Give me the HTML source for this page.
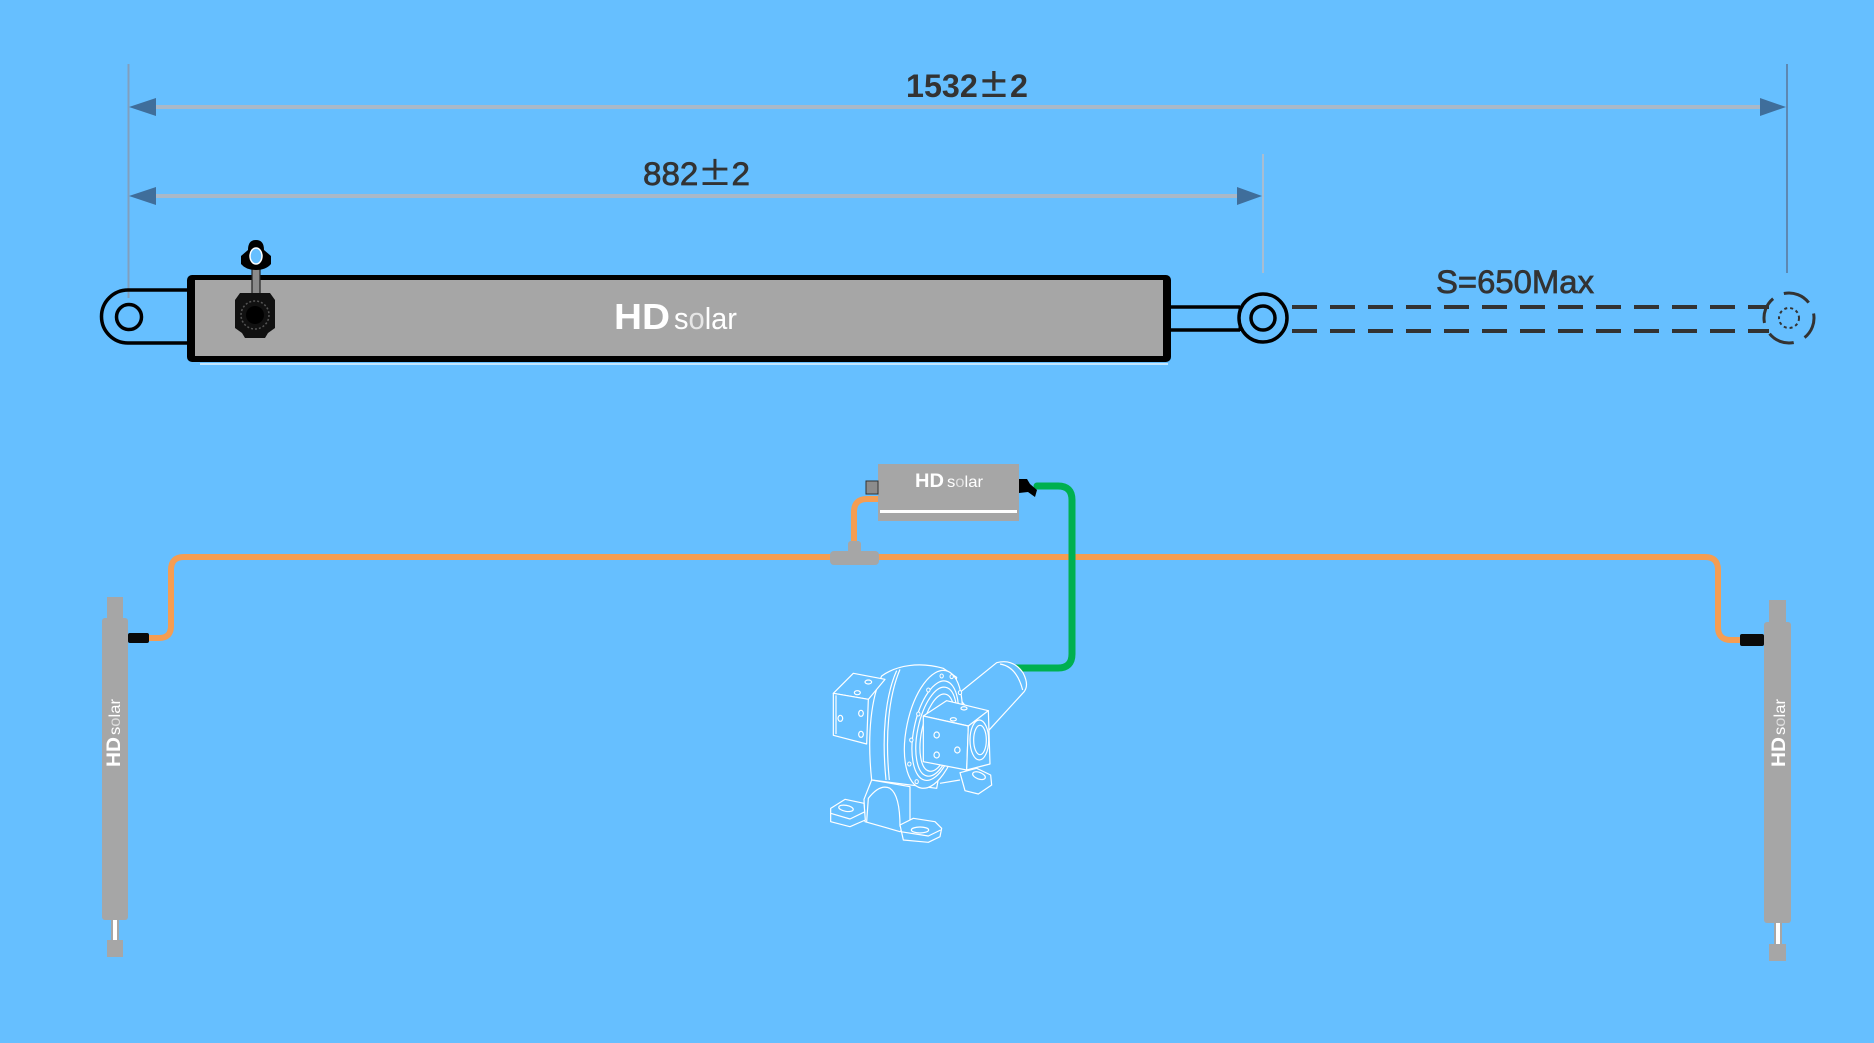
<!DOCTYPE html>
<html><head><meta charset="utf-8">
<style>
html,body{margin:0;padding:0;background:#66bfff;}
svg{display:block;}
</style></head>
<body>
<svg width="1874" height="1043" viewBox="0 0 1874 1043" xmlns="http://www.w3.org/2000/svg">
<rect x="0" y="0" width="1874" height="1043" fill="#66bfff"/>

<!-- extension lines -->
<line x1="128.5" y1="64" x2="128.5" y2="298" stroke="#819fbd" stroke-width="2"/>
<line x1="1787" y1="64" x2="1787" y2="273" stroke="#5d88b2" stroke-width="2"/>
<line x1="1263" y1="154" x2="1263" y2="273" stroke="#a8bdd2" stroke-width="2"/>

<!-- dimension lines -->
<line x1="140" y1="107" x2="1776" y2="107" stroke="#a9b8c8" stroke-width="4"/>
<line x1="140" y1="196" x2="1250" y2="196" stroke="#a9b8c8" stroke-width="4"/>
<polygon points="129,107 156,98 156,116" fill="#3f6e9b"/>
<polygon points="1786,107 1760,98 1760,116" fill="#3f6e9b"/>
<polygon points="129,196 156,187 156,205" fill="#3f6e9b"/>
<polygon points="1262,196 1237,187 1237,205" fill="#3f6e9b"/>

<g font-family="'Liberation Sans','Noto Sans CJK SC',sans-serif" fill="#333333">
<text x="906" y="97" font-size="32" font-weight="bold" textLength="122" lengthAdjust="spacingAndGlyphs">1532<tspan font-family="'Noto Sans CJK SC',sans-serif">±</tspan>2</text>
<text x="643" y="185" font-size="32" stroke="#333333" stroke-width="0.7" textLength="107" lengthAdjust="spacingAndGlyphs">882<tspan font-family="'Noto Sans CJK SC',sans-serif">±</tspan>2</text>
<text x="1436" y="293" font-size="32" stroke="#333333" stroke-width="0.7" textLength="158" lengthAdjust="spacingAndGlyphs">S=650Max</text>
</g>

<!-- main actuator left eye -->
<path d="M190,290 H128 A26.5,26.5 0 0 0 128,343 H190" fill="none" stroke="#000" stroke-width="3.5"/>
<circle cx="129" cy="317" r="12.5" fill="none" stroke="#000" stroke-width="3.5"/>

<!-- main actuator body -->
<rect x="187" y="275" width="984" height="87" rx="5" fill="#000"/>
<rect x="195" y="280" width="968" height="76" fill="#a6a6a6"/>
<line x1="200" y1="364" x2="1168" y2="364" stroke="#ffffff" stroke-width="1.5" opacity="0.8"/>

<!-- right rod & eye -->
<line x1="1171" y1="307" x2="1240" y2="307" stroke="#000" stroke-width="3.5"/>
<line x1="1171" y1="330" x2="1240" y2="330" stroke="#000" stroke-width="3.5"/>
<line x1="1240" y1="306" x2="1240" y2="331" stroke="#000" stroke-width="3"/>
<circle cx="1263" cy="318" r="24" fill="#66bfff" stroke="#000" stroke-width="3.5"/>
<circle cx="1263" cy="318" r="12" fill="none" stroke="#000" stroke-width="3.5"/>

<!-- dashed extension -->
<line x1="1292" y1="307" x2="1769" y2="307" stroke="#333" stroke-width="4" stroke-dasharray="25 13"/>
<line x1="1292" y1="331" x2="1769" y2="331" stroke="#333" stroke-width="4" stroke-dasharray="25 13"/>
<circle cx="1789" cy="318" r="25" fill="none" stroke="#333" stroke-width="3" stroke-dasharray="27 12" transform="rotate(-100 1789 318)"/>
<circle cx="1789" cy="318" r="10" fill="none" stroke="#333" stroke-width="2" stroke-dasharray="3 3"/>

<!-- main actuator connector -->
<rect x="252" y="266" width="8" height="30" fill="#8a8a8a" stroke="#222" stroke-width="1.2"/>
<path d="M248,250 Q248,240 256,240 Q264,240 264,250 L271,256 L271,264 Q266,270 256,270 Q246,270 241,264 L241,256 Z" fill="#000"/>
<ellipse cx="256" cy="256" rx="6" ry="8" fill="#66bfff" stroke="#ffffff" stroke-width="1.5"/>
<polygon points="240,293 270,293 275,300 275,328 268,333 265,338 245,338 242,333 235,328 235,300" fill="#111"/>
<circle cx="255" cy="315" r="14" fill="none" stroke="#555" stroke-width="1.5" stroke-dasharray="2 2"/>
<circle cx="255" cy="315" r="9" fill="#000"/>

<!-- main logo -->
<g font-family="'Liberation Sans',sans-serif" fill="#ffffff">
<text x="614" y="329" font-size="36" font-weight="bold" textLength="56" lengthAdjust="spacingAndGlyphs">HD</text>
<text x="674" y="329" font-size="31" textLength="63" lengthAdjust="spacingAndGlyphs">s<tspan fill="#e6e6e6">o</tspan>lar</text>
</g>

<!-- wires -->
<path d="M149,638 H159 Q171,638 171,626 V570 Q171,557 184,557 H1705 Q1718,557 1718,570 V627 Q1718,640 1731,640 H1740" fill="none" stroke="#f59d52" stroke-width="6"/>
<path d="M854,546 V512 Q854,499 867,499 H879" fill="none" stroke="#f59d52" stroke-width="6"/>
<path d="M1037,486 H1058 Q1072,486 1072,500 V654 Q1072,668 1058,668 H1013" fill="none" stroke="#00b050" stroke-width="7" stroke-linecap="round"/>

<!-- T junction -->
<rect x="848" y="541" width="13" height="13" rx="3" fill="#a6a6a6"/>
<rect x="830" y="551" width="49" height="14" rx="4" fill="#a6a6a6"/>

<!-- controller -->
<rect x="878" y="464" width="141" height="57" fill="#a6a6a6"/>
<rect x="880" y="510" width="137" height="3" fill="#ffffff"/>
<rect x="866" y="481" width="12" height="13" fill="#8c8c8c" stroke="#333" stroke-width="1"/>
<path d="M1019,479 H1027 L1030,484 L1037,490 L1035,497 L1028,492 L1019,493 Z" fill="#000"/>
<g font-family="'Liberation Sans',sans-serif" fill="#ffffff">
<text x="915" y="487" font-size="19" font-weight="bold" textLength="29" lengthAdjust="spacingAndGlyphs">HD</text>
<text x="947" y="487" font-size="16" textLength="36" lengthAdjust="spacingAndGlyphs">s<tspan fill="#dddddd">o</tspan>lar</text>
</g>

<!-- left small actuator -->
<rect x="107" y="597" width="16" height="24" fill="#a6a6a6"/>
<rect x="102" y="618" width="26" height="302" rx="3" fill="#a6a6a6"/>
<rect x="111" y="918" width="8" height="23" fill="#a6a6a6"/>
<rect x="113" y="920" width="4" height="20" fill="#ffffff"/>
<rect x="107" y="940" width="16" height="17" fill="#a6a6a6"/>
<rect x="128" y="633" width="21" height="10" rx="2" fill="#0a0a0a"/>
<g transform="translate(113,733) rotate(-90)" font-family="'Liberation Sans',sans-serif" fill="#ffffff">
<text x="-34" y="7" font-size="19" font-weight="bold" textLength="30" lengthAdjust="spacingAndGlyphs">HD</text>
<text x="-2" y="7" font-size="16" textLength="36" lengthAdjust="spacingAndGlyphs">s<tspan fill="#dddddd">o</tspan>lar</text>
</g>

<!-- right small actuator -->
<rect x="1769" y="600" width="17" height="25" fill="#a6a6a6"/>
<rect x="1764" y="622" width="27" height="301" rx="3" fill="#a6a6a6"/>
<rect x="1774" y="921" width="8" height="24" fill="#a6a6a6"/>
<rect x="1776" y="923" width="4" height="21" fill="#ffffff"/>
<rect x="1769" y="944" width="17" height="17" fill="#a6a6a6"/>
<rect x="1740" y="634" width="24" height="12" rx="2" fill="#0a0a0a"/>
<g transform="translate(1778,733) rotate(-90)" font-family="'Liberation Sans',sans-serif" fill="#ffffff">
<text x="-34" y="7" font-size="19" font-weight="bold" textLength="30" lengthAdjust="spacingAndGlyphs">HD</text>
<text x="-2" y="7" font-size="16" textLength="36" lengthAdjust="spacingAndGlyphs">s<tspan fill="#dddddd">o</tspan>lar</text>
</g>

<!-- slewing drive line drawing -->
<g transform="translate(800,640) scale(0.33333)" fill="#66bfff" stroke="#ffffff" stroke-width="3.6" stroke-linejoin="round">
  <!-- motor cylinder -->
  <path d="M470,165 L590,68 Q640,55 670,100 Q690,140 668,160 L560,278 Z"/>
  <path d="M600,72 Q650,80 668,150" fill="none"/>
  <!-- drum -->
  <path d="M245,108 C290,75 360,65 430,85 L470,112 L410,445 L215,420 C200,280 215,170 245,108 Z"/>
  <path d="M290,92 C255,170 245,290 258,420" fill="none"/>
  <path d="M300,88 C265,170 255,290 268,420" fill="none"/>
  <!-- left block -->
  <path d="M100,160 L160,100 L255,118 L205,178 Z"/>
  <path d="M100,160 L205,178 L200,312 L100,286 Z"/>
  <line x1="108" y1="166" x2="108" y2="282"/>
  <ellipse cx="205" cy="126" rx="10" ry="6"/>
  <ellipse cx="172" cy="158" rx="9" ry="6"/>
  <ellipse cx="121" cy="235" rx="7" ry="9"/>
  <ellipse cx="183" cy="220" rx="7" ry="9"/>
  <ellipse cx="183" cy="283" rx="7" ry="9"/>
  <!-- pedestal -->
  <path d="M215,420 L192,478 L195,545 L300,575 L330,545 L330,440 Z"/>
  <path d="M200,545 L205,475 Q240,430 270,445 Q300,465 300,560" fill="none"/>
  <path d="M92,505 L135,478 L192,490 L196,540 L150,560 L92,545 Z"/>
  <path d="M92,520 L150,537 L195,515" fill="none"/>
  <ellipse cx="138" cy="505" rx="22" ry="9" transform="rotate(10 138 505)"/>
  <path d="M300,555 L340,535 L405,545 L425,565 L420,590 L385,607 L310,600 Z"/>
  <path d="M302,575 L385,588 L422,570" fill="none"/>
  <ellipse cx="360" cy="570" rx="26" ry="9"/>
  <path d="M420,430 L480,420" fill="none"/>
  <path d="M480,398 L530,385 L572,405 L575,435 L535,462 L495,452 Z"/>
  <ellipse cx="537" cy="407" rx="20" ry="10" transform="rotate(20 537 407)"/>
  <!-- flange -->
  <ellipse cx="400" cy="268" rx="80" ry="180" transform="rotate(12 400 268)"/>
  <ellipse cx="406" cy="272" rx="64" ry="152" transform="rotate(12 406 272)"/>
  <ellipse cx="409" cy="275" rx="56" ry="136" transform="rotate(12 409 275)"/>
  <ellipse cx="412" cy="278" rx="47" ry="118" transform="rotate(12 412 278)"/>
  <g stroke-width="3">
    <ellipse cx="425" cy="108" rx="5" ry="6"/>
    <ellipse cx="455" cy="110" rx="5" ry="6"/>
    <ellipse cx="385" cy="150" rx="5" ry="6"/>
    <ellipse cx="355" cy="222" rx="5" ry="6"/>
    <ellipse cx="334" cy="300" rx="5" ry="6"/>
    <ellipse cx="328" cy="372" rx="5" ry="6"/>
    <ellipse cx="350" cy="425" rx="5" ry="6"/>
    <ellipse cx="480" cy="158" rx="5" ry="6"/>
  </g>
  <!-- right block -->
  <path d="M370,228 L440,182 L565,212 L505,258 Z"/>
  <path d="M370,228 L505,258 L500,390 L370,365 Z"/>
  <path d="M505,258 L565,212 L570,372 L500,390 Z"/>
  <ellipse cx="538" cy="300" rx="28" ry="60"/>
  <ellipse cx="540" cy="300" rx="19" ry="44"/>
  <ellipse cx="492" cy="205" rx="9" ry="5"/>
  <ellipse cx="460" cy="238" rx="9" ry="5"/>
  <ellipse cx="410" cy="285" rx="8" ry="9"/>
  <ellipse cx="472" cy="330" rx="8" ry="9"/>
  <ellipse cx="410" cy="345" rx="8" ry="9"/>
</g>
</svg>
</body></html>
